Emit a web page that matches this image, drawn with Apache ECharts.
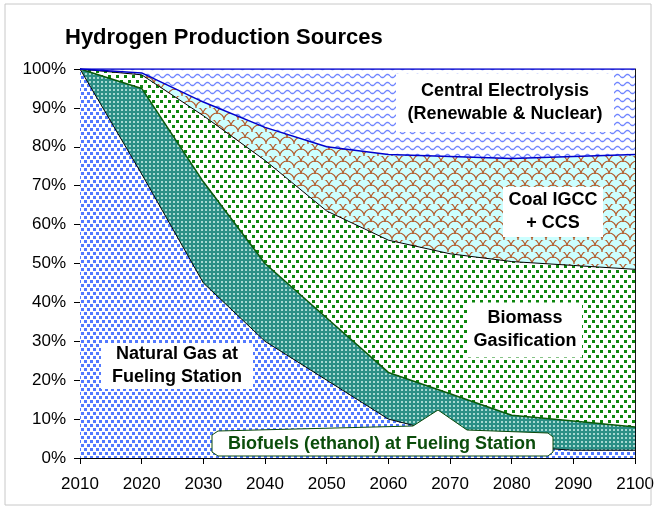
<!DOCTYPE html>
<html>
<head>
<meta charset="utf-8">
<script src="https://cdn.jsdelivr.net/npm/echarts@6/dist/echarts.min.js"></script>
<style>
  html, body { margin: 0; padding: 0; background: #fff; }
  #chart { width: 657px; height: 508px; }
</style>
</head>
<body>
<div id="chart"></div>
<script>
// years on the x axis
var years = ['2010', '2020', '2030', '2040', '2050', '2060', '2070', '2080', '2090', '2100']
// share of each source, percent (stacked bottom to top)
var naturalGas  = [100, 73, 45, 30, 20, 10, 6, 3, 2, 2]
var biofuels    = [0, 22, 26, 20, 16, 12, 10.5, 8, 7.5, 6]
var biomass     = [0, 3.5, 17, 26.5, 27.5, 34, 36, 39.5, 40, 40.5]
var coal        = [0, 0.5, 3.5, 8.5, 16.5, 22, 25, 26.5, 28, 29.5]
var electrolysis = [0, 1, 8.5, 15, 20, 22, 22.5, 23, 22.5, 22]

function tile(w, h, bg, draw) {
    var c = document.createElement('canvas')
    c.width = w
    c.height = h
    var ctx = c.getContext('2d')
    ctx.fillStyle = bg
    ctx.fillRect(0, 0, w, h)
    draw(ctx)
    return { image: c, repeat: 'repeat' }
}

// blue confetti on white
var ngFill = tile(6, 8, '#ffffff', function (ctx) {
    ctx.fillStyle = '#5279ff'
    ctx.fillRect(0, 0, 3, 3)
    ctx.fillRect(3, 4, 3, 3)
})
// teal with small light squares
var bioFill = tile(4, 4, '#2b8f86', function (ctx) {
    ctx.fillStyle = '#a6d8d1'
    ctx.fillRect(1, 1, 2, 2)
})
// green confetti on white
var biomassFill = tile(8, 10, '#ffffff', function (ctx) {
    ctx.fillStyle = '#0c860c'
    ctx.fillRect(0, 0, 3, 3)
    ctx.fillRect(4, 5, 3, 3)
})
// light cyan with brown scales
var coalFill = tile(14, 12, '#ccffff', function (ctx) {
    ctx.strokeStyle = '#b35a2a'
    ctx.lineWidth = 1.2
    ctx.beginPath()
    ctx.arc(7, 12, 7, Math.PI, 0)
    ctx.stroke()
    ctx.beginPath()
    ctx.arc(0, 6, 7, Math.PI, 0)
    ctx.stroke()
    ctx.beginPath()
    ctx.arc(14, 6, 7, Math.PI, 0)
    ctx.stroke()
})
// blue waves on white
var elecFill = tile(10, 8, '#ffffff', function (ctx) {
    ctx.strokeStyle = '#7085ff'
    ctx.lineWidth = 1.3
    ctx.beginPath()
    for (var i = 0; i <= 10; i++) {
        var y = 4 + 1.6 * Math.sin(i / 10 * Math.PI * 2)
        if (i === 0) ctx.moveTo(i, y); else ctx.lineTo(i, y)
    }
    ctx.stroke()
})

function area(name, data, fill, lineColor, lineWidth) {
    return {
        name: name,
        type: 'line',
        stack: 'total',
        data: data,
        symbol: 'none',
        silent: true,
        lineStyle: { color: lineColor, width: lineWidth },
        areaStyle: { color: fill, opacity: 1 }
    }
}

var font = '"Liberation Sans", Arial, sans-serif'

function box(cx, cy, w, h, text) {
    return {
        type: 'group',
        z: 100,
        children: [
            { type: 'rect', z: 100, shape: { x: cx - w / 2, y: cy - h / 2, width: w, height: h }, style: { fill: '#fff' } },
            { type: 'text', z: 101, x: cx, y: cy, style: {
                text: text, fill: '#000', align: 'center', verticalAlign: 'middle',
                font: 'bold 18px ' + font, lineHeight: 23 } }
        ]
    }
}

var option = {
    animation: false,
    title: {
        text: 'Hydrogen Production Sources',
        left: 60,
        top: 22,
        textStyle: { fontFamily: font, fontSize: 22, fontWeight: 'bold', color: '#000' }
    },
    grid: { left: 80, right: 21, top: 69, bottom: 50 },
    xAxis: {
        type: 'category',
        data: years,
        boundaryGap: false,
        axisLine: { lineStyle: { color: '#000', width: 1 } },
        axisTick: { length: 6, lineStyle: { color: '#000' } },
        axisLabel: { color: '#000', fontSize: 17, fontFamily: font, margin: 18 }
    },
    yAxis: [{
        type: 'value',
        min: 0,
        max: 100,
        interval: 10,
        splitLine: { show: false },
        axisLine: { show: true, lineStyle: { color: '#000', width: 1 } },
        axisTick: { show: true, length: 6, lineStyle: { color: '#000' } },
        axisLabel: { color: '#000', fontSize: 17, fontFamily: font, margin: 14, formatter: '{value}%' }
    }, {
        type: 'value',
        position: 'right',
        min: 0,
        max: 100,
        interval: 10,
        splitLine: { show: false },
        axisLine: { show: true, lineStyle: { color: '#000', width: 1 } },
        axisTick: { show: false },
        axisLabel: { show: false }
    }],
    series: [
        area('Natural Gas at Fueling Station', naturalGas, ngFill, '#000', 1),
        area('Biofuels (ethanol) at Fueling Station', biofuels, bioFill, '#0a5a0a', 1.5),
        area('Biomass Gasification', biomass, biomassFill, '#000', 1),
        area('Coal IGCC + CCS', coal, coalFill, '#0000cc', 1.5),
        area('Central Electrolysis (Renewable & Nuclear)', electrolysis, elecFill, '#0000cc', 1.5)
    ],
    graphic: [
        { type: 'rect', z: 100, shape: { x: 5, y: 4, width: 646, height: 501 }, style: { fill: 'none', stroke: '#c8c8c8', lineWidth: 1 } },
        box(505, 103, 218, 58, 'Central Electrolysis\n(Renewable & Nuclear)'),
        box(553, 212, 100, 50, 'Coal IGCC\n+ CCS'),
        box(525, 330, 114, 55, 'Biomass\nGasification'),
        box(177, 366, 152, 46, 'Natural Gas at\nFueling Station'),
        {
            type: 'polygon',
            z: 100,
            shape: { points: [[218, 431], [413, 426], [438, 410], [467, 430], [548, 433], [553, 437], [553, 452], [548, 456], [218, 456], [212, 452], [212, 435]] },
            style: { fill: '#fff', stroke: '#0a4a0a', lineWidth: 1 }
        },
        { type: 'text', z: 101, x: 382, y: 444, style: {
            text: 'Biofuels (ethanol) at Fueling Station', fill: '#0b4d0b', align: 'center', verticalAlign: 'middle',
            font: 'bold 18px ' + font } }
    ]
}

var chart = echarts.init(document.getElementById('chart'))
chart.setOption(option)
</script>
</body>
</html>
